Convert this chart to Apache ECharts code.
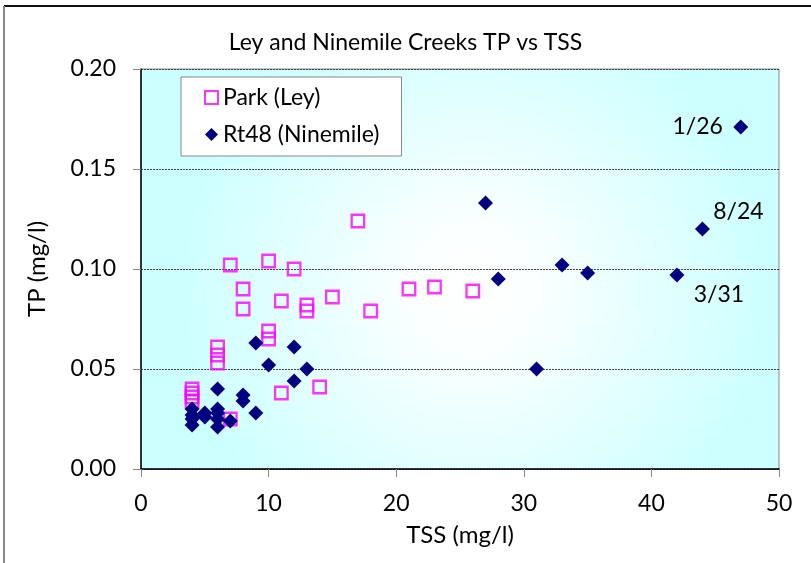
<!DOCTYPE html>
<html>
<head>
<meta charset="utf-8">
<script src="https://cdn.jsdelivr.net/npm/echarts@6/dist/echarts.min.js"></script>
<style>
html,body{margin:0;padding:0;background:#fff;}
#chart{width:811px;height:563px;}
</style>
</head>
<body>
<div id="chart"></div>
<script>
// ---- data ----
const parkTSS = [4, 4, 4, 4, 6, 6, 6, 7, 7, 8, 8, 10, 10, 10, 11, 11, 12, 13, 13, 14, 15, 17, 18, 21, 23, 26];
const parkTP  = [0.040, 0.038, 0.036, 0.034, 0.061, 0.057, 0.053, 0.102, 0.025, 0.090, 0.080, 0.104, 0.069, 0.065, 0.084, 0.038, 0.100, 0.082, 0.079, 0.041, 0.086, 0.124, 0.079, 0.090, 0.091, 0.089];

const rt48TSS = [4, 4, 4, 4, 5, 5, 6, 6, 6, 6, 6, 7, 8, 8, 9, 9, 10, 12, 12, 13, 27, 28, 31, 33, 35, 42, 44, 47];
const rt48TP  = [0.030, 0.027, 0.025, 0.022, 0.028, 0.026, 0.040, 0.030, 0.028, 0.025, 0.021, 0.024, 0.037, 0.034, 0.063, 0.028, 0.052, 0.061, 0.044, 0.050, 0.133, 0.095, 0.050, 0.102, 0.098, 0.097, 0.120, 0.171];
// date notes attached to Rt48 points (index into rt48 arrays)
const rt48NoteIdx  = [27, 26, 25];
const rt48NoteText = ['1/26', '8/24', '3/31'];

const xTicks = [0, 10, 20, 30, 40, 50];
const yTicks = [0.00, 0.05, 0.10, 0.15, 0.20];
const seriesNames = ['Park (Ley)', 'Rt48 (Ninemile)'];

// ---- styling ----
const FONT = 'Lato';
const noteOffsets = { '1/26': [-43, 0], '8/24': [36, -17], '3/31': [42, 20] };

const parkData = parkTSS.map((x, i) => [x, parkTP[i]]);
const rt48Data = rt48TSS.map((x, i) => {
  const k = rt48NoteIdx.indexOf(i);
  if (k < 0) return [x, rt48TP[i]];
  const txt = rt48NoteText[k];
  return {
    value: [x, rt48TP[i]],
    label: {
      show: true, position: 'inside', formatter: txt, offset: noteOffsets[txt],
      color: '#000', fontFamily: FONT, fontSize: 23
    }
  };
});

const chart = echarts.init(document.getElementById('chart'), null, {renderer: 'canvas'});
chart.setOption({
  backgroundColor: '#ffffff',
  animation: false,
  title: {
    text: 'Ley and Ninemile Creeks TP vs TSS',
    left: 'center', top: 26,
    textStyle: {fontFamily: FONT, fontSize: 23, fontWeight: 'normal', color: '#000'}
  },
  graphic: [
    {type: 'line', shape: {x1: 4, y1: 6, x2: 811, y2: 6}, style: {stroke: '#111', lineWidth: 2}, z: 100},
    {type: 'line', shape: {x1: 4, y1: 6, x2: 4, y2: 563}, style: {stroke: '#888', lineWidth: 2}, z: 100}
  ],
  grid: {
    left: 141, right: 32, top: 69, bottom: 94, show: true,
    borderColor: '#888', borderWidth: 1,
    backgroundColor: {
      type: 'radial', x: 0.52, y: 0.55, r: 0.75,
      colorStops: [
        {offset: 0, color: '#ffffff'},
        {offset: 0.2, color: '#fbffff'},
        {offset: 1, color: '#ccffff'}
      ]
    }
  },
  legend: {
    data: seriesNames, orient: 'vertical', left: 181, top: 77,
    backgroundColor: '#ffffff', borderColor: '#888', borderWidth: 1,
    padding: [8, 22, 9, 23], itemGap: 12, itemWidth: 13, itemHeight: 13,
    textStyle: {fontFamily: FONT, fontSize: 23, color: '#000', lineHeight: 25}
  },
  xAxis: {
    type: 'value', min: xTicks[0], max: xTicks[xTicks.length - 1], interval: 10,
    name: 'TSS (mg/l)', nameLocation: 'middle', nameGap: 54,
    nameTextStyle: {fontFamily: FONT, fontSize: 24, color: '#000'},
    axisLine: {show: true, lineStyle: {color: '#000', width: 1.5}},
    axisTick: {show: true, length: 8, lineStyle: {color: '#888'}},
    axisLabel: {fontFamily: FONT, fontSize: 23, color: '#000', margin: 23},
    splitLine: {show: false}
  },
  yAxis: {
    type: 'value', min: yTicks[0], max: yTicks[yTicks.length - 1], interval: 0.05,
    name: 'TP (mg/l)', nameLocation: 'middle', nameGap: 92,
    nameTextStyle: {fontFamily: FONT, fontSize: 24, color: '#000'},
    axisLine: {show: true, lineStyle: {color: '#000', width: 1.5}},
    axisTick: {show: true, length: 8, lineStyle: {color: '#888'}},
    axisLabel: {fontFamily: FONT, fontSize: 23, color: '#000', margin: 25,
      formatter: v => v.toFixed(2)},
    splitLine: {show: true, lineStyle: {color: '#444', type: [2, 1], width: 1}}
  },
  series: [
    {
      name: seriesNames[0], type: 'scatter', symbol: 'rect', symbolSize: 12.5,
      itemStyle: {color: 'rgba(255,255,255,0)', borderColor: '#ff00ff', borderWidth: 2.3},
      data: parkData, z: 2
    },
    {
      name: seriesNames[1], type: 'scatter', symbol: 'diamond', symbolSize: 15,
      itemStyle: {color: '#000080', opacity: 1},
      data: rt48Data, z: 3
    }
  ]
});
</script>
</body>
</html>
